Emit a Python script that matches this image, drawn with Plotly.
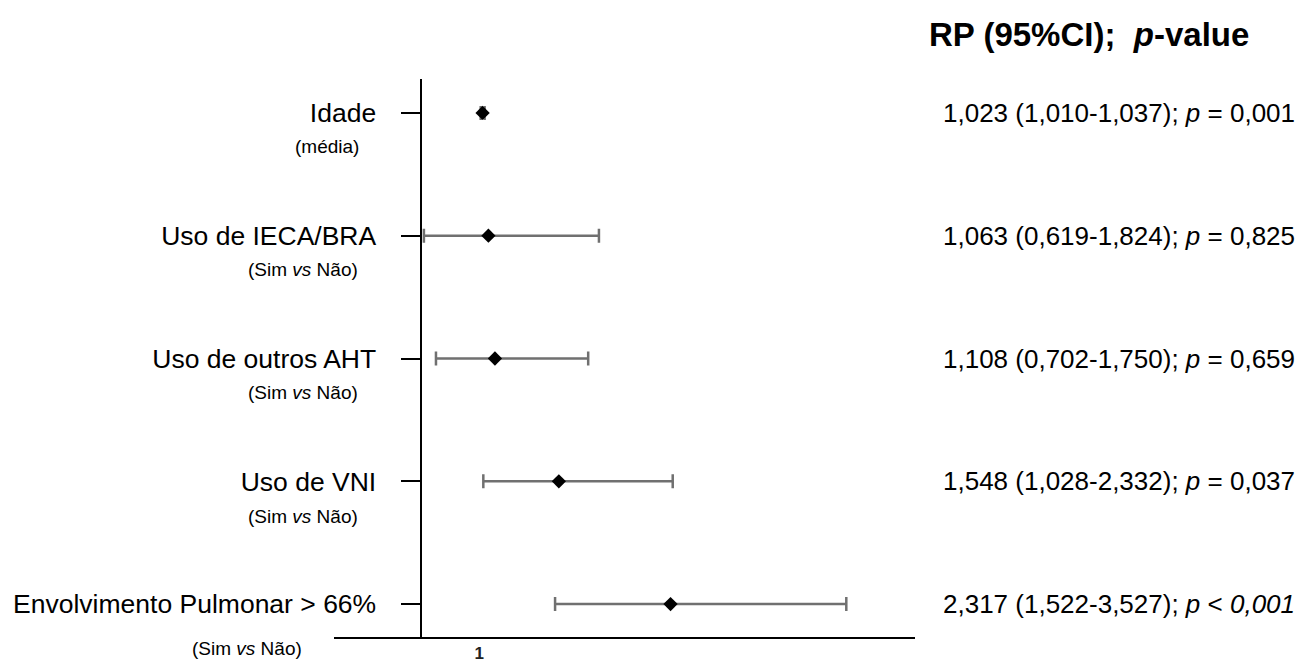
import plotly.graph_objects as go

# ---- data ----
categories = ["Idade", "Uso de IECA/BRA", "Uso de outros AHT", "Uso de VNI",
              "Envolvimento Pulmonar > 66%"]
sublabels = ["(média)", "(Sim <i>vs</i> Não)", "(Sim <i>vs</i> Não)",
             "(Sim <i>vs</i> Não)", "(Sim <i>vs</i> Não)"]
rp = [1.023, 1.063, 1.108, 1.548, 2.317]
ci_low = [1.010, 0.619, 0.702, 1.028, 1.522]
ci_high = [1.037, 1.824, 1.750, 2.332, 3.527]
p_text = ["<i>p</i> = 0,001", "<i>p</i> = 0,825", "<i>p</i> = 0,659",
          "<i>p</i> = 0,037", "<i>p</i> &lt; <i>0,001</i>"]
x_ticks = [1]
x_ticktext = ["<b>1</b>"]

def fmt(v):
    return f"{v:.3f}".replace(".", ",")

rows = list(range(len(categories)))
FONT = "Arial, Liberation Sans, sans-serif"

# layout geometry (pixels)
W, H = 1313, 663
L, R = 334, 915
T, B = 79, 637.5
plot_w = R - L
plot_h = B - T

fig = go.Figure()
fig.add_trace(go.Scatter(
    x=rp, y=rows, mode="markers",
    marker=dict(symbol="diamond", size=11, color="black"),
    error_x=dict(type="data", symmetric=False,
                 array=[h - v for h, v in zip(ci_high, rp)],
                 arrayminus=[v - l for v, l in zip(rp, ci_low)],
                 color="#707070", thickness=2.5, width=7),
    showlegend=False, hoverinfo="skip",
))

annotations = []
# sub-labels under the category labels
sub_px = [361, 360, 360, 360, 304]
sub_dy = [34, 34, 34, 34, 45]
row_px = [113, 235.5, 359, 482.5, 604.5]
for i, s in enumerate(sublabels):
    annotations.append(dict(
        text=s, xref="paper", yref="paper",
        x=(sub_px[i] - L) / plot_w, y=1 - (row_px[i] + sub_dy[i] - T) / plot_h,
        xanchor="right", yanchor="middle", showarrow=False,
        font=dict(family=FONT, size=19, color="black")))
# right-hand result column
for i in rows:
    annotations.append(dict(
        text=f"{fmt(rp[i])} ({fmt(ci_low[i])}-{fmt(ci_high[i])}); {p_text[i]}",
        xref="paper", yref="y", x=(941 - L) / plot_w, y=i,
        xanchor="left", yanchor="middle", showarrow=False,
        font=dict(family=FONT, size=26, color="black")))
# column header
annotations.append(dict(
    text="<b>RP (95%CI);  <i>p</i>-value</b>", xref="paper", yref="paper",
    x=(1089 - L) / plot_w, y=1 + (T - 34) / plot_h,
    xanchor="center", yanchor="middle", showarrow=False,
    font=dict(family=FONT, size=33, color="black")))

fig.update_layout(
    width=W, height=H,
    margin=dict(l=L, r=W - R, t=T, b=H - B, autoexpand=False),
    plot_bgcolor="white", paper_bgcolor="white",
    font=dict(family=FONT, color="black"),
    xaxis=dict(range=[0, 4], showgrid=False, zeroline=False,
               showline=True, linecolor="black", linewidth=2,
               tickvals=x_ticks, ticktext=x_ticktext, ticks="",
               tickfont=dict(family=FONT, size=17, color="#222")),
    yaxis=dict(range=[4 + (B - row_px[4]) / 123, -(row_px[0] - T) / 123],
               showgrid=False, zeroline=False,
               anchor="free", position=(420.5 - L) / plot_w,
               showline=True, linecolor="black", linewidth=2,
               ticks="outside", ticklen=19, tickwidth=2, tickcolor="black",
               tickvals=rows, ticktext=categories, ticklabelstandoff=19,
               tickfont=dict(family=FONT, size=26.5, color="black")),
    annotations=annotations,
)

fig.write_html("out.html")
